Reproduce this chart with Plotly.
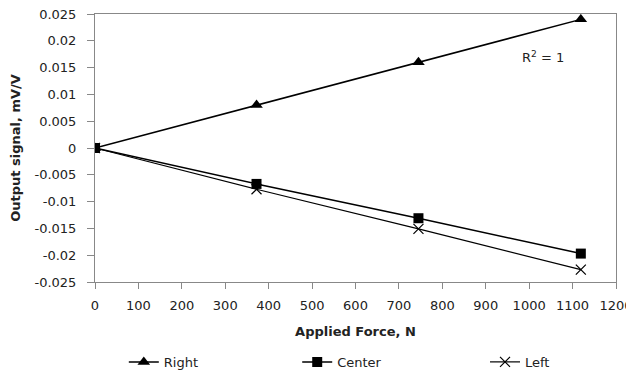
import plotly.graph_objects as go

force = [0, 372, 745, 1119]
right = [0, 0.008, 0.016, 0.024]
center = [0, -0.0067, -0.0131, -0.0197]
left = [0, -0.0077, -0.0151, -0.0227]
x_ticks = list(range(0, 1201, 100))
y_ticks = [0.025, 0.02, 0.015, 0.01, 0.005, 0, -0.005, -0.01, -0.015, -0.02, -0.025]
y_labels = ["0.025", "0.02", "0.015", "0.01", "0.005", "0", "-0.005", "-0.01", "-0.015", "-0.02", "-0.025"]

FONT = "'DejaVu Sans', sans-serif"

fig = go.Figure()
fig.add_trace(go.Scatter(x=force, y=right, name="Right", mode="lines+markers",
                         legend="legend",
                         line=dict(color="black", width=1.5),
                         marker=dict(symbol="triangle-up", size=11, color="black")))
fig.add_trace(go.Scatter(x=force, y=center, name="Center", mode="lines+markers",
                         legend="legend2",
                         line=dict(color="black", width=1.5),
                         marker=dict(symbol="square", size=10, color="black")))
fig.add_trace(go.Scatter(x=force, y=left, name="Left", mode="lines+markers",
                         legend="legend3",
                         line=dict(color="black", width=1.2),
                         marker=dict(symbol="x-thin", size=10, color="black",
                                     line=dict(color="black", width=1.2))))

fig.add_annotation(x=1032, y=0.0169, text="R<sup>2</sup> = 1", showarrow=False,
                   font=dict(size=13, color="#222", family=FONT), xref="x", yref="y")

leg = dict(orientation="h", xanchor="left", xref="container", yref="container",
           y=0.046, yanchor="middle",
           font=dict(size=13), itemwidth=30, bgcolor="rgba(0,0,0,0)")

# page body has an 8px default margin, so the figure is sized to fit the window
fig.update_layout(
    width=626, height=371,
    margin=dict(l=87, r=18, t=6, b=97, autoexpand=False),
    paper_bgcolor="white", plot_bgcolor="white",
    font=dict(family=FONT, size=13, color="#222"),
    showlegend=True,
    legend=dict(leg, x=0.185),
    legend2=dict(leg, x=0.462),
    legend3=dict(leg, x=0.762),
    xaxis=dict(range=[0, 1200], tickvals=x_ticks, ticks="outside", ticklen=6,
               tickcolor="#888", showline=True, linecolor="#888", linewidth=1,
               mirror=True, showgrid=False, zeroline=False, automargin=False,
               ticklabelstandoff=5, ticklabeloverflow="allow",
               title=dict(text="<b>Applied Force, N</b>", font=dict(size=13), standoff=15)),
    yaxis=dict(range=[-0.025, 0.025], tickvals=y_ticks, ticktext=y_labels,
               ticks="outside", ticklen=7, tickcolor="#888", showline=True,
               linecolor="#888", linewidth=1, mirror=True, showgrid=False,
               zeroline=False, automargin=False, ticklabelstandoff=8,
               ticklabeloverflow="allow",
               title=dict(text="<b>Output signal, mV/V</b>", font=dict(size=13), standoff=11)),
)

fig.write_html("out.html")
